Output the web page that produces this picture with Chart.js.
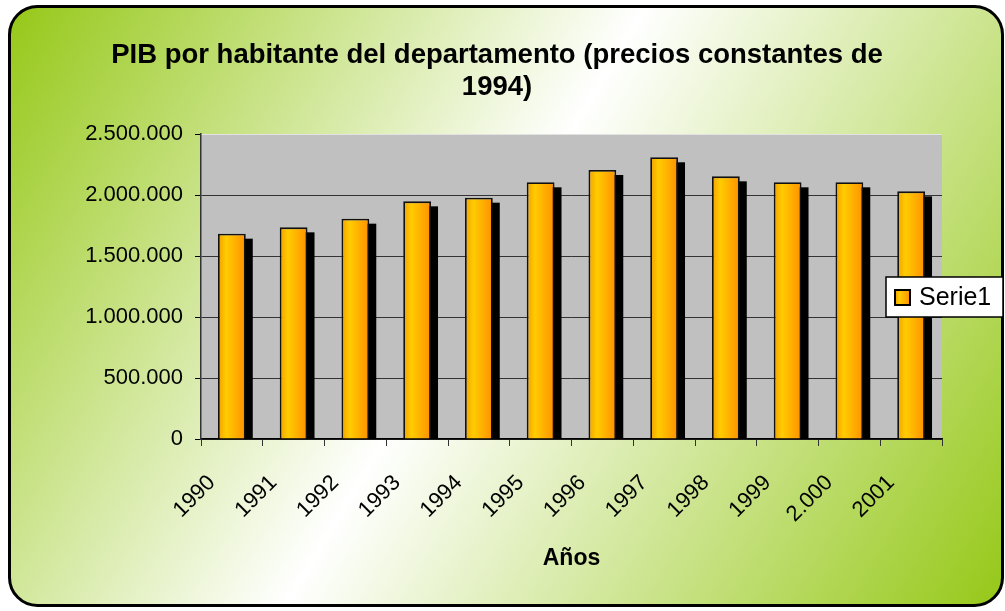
<!DOCTYPE html>
<html>
<head>
<meta charset="utf-8">
<title>PIB por habitante del departamento</title>
<script src="https://cdn.jsdelivr.net/npm/chart.js@4.4.1/dist/chart.umd.min.js"></script>
<style>
  html, body { margin: 0; padding: 0; background: #fff; }
  #wrap { width: 1005px; height: 611px; }
</style>
</head>
<body>
<div id="wrap"><canvas id="chart" width="1005" height="611"></canvas></div>
<script>
// values
const years = ["1990", "1991", "1992", "1993", "1994", "1995", "1996", "1997", "1998", "1999", "2.000", "2001"];
const pib = [1683000, 1735000, 1806000, 1948000, 1978000, 2104000, 2205000, 2309000, 2153000, 2104000, 2104000, 2030000];
const seriesName = "Serie1";
const titleLines = ["PIB por habitante del departamento (precios constantes de", "1994)"];
const xTitle = "Años";
const yMax = 2500000;
const yStep = 500000;

const FONT = '"Liberation Sans", Arial, sans-serif';
const BAR_PCT = 0.45;

function barGradient(ctx, x0, x1) {
  const g = ctx.createLinearGradient(x0, 0, x1, 0);
  g.addColorStop(0, "#f2a000");
  g.addColorStop(0.3, "#ffcc00");
  g.addColorStop(1, "#ff9000");
  return g;
}

function thousands(v) {
  return String(v).replace(/\B(?=(\d{3})+(?!\d))/g, ".");
}

function roundRect(ctx, x, y, w, h, r) {
  ctx.beginPath();
  ctx.moveTo(x + r, y);
  ctx.lineTo(x + w - r, y);
  ctx.arcTo(x + w, y, x + w, y + r, r);
  ctx.lineTo(x + w, y + h - r);
  ctx.arcTo(x + w, y + h, x + w - r, y + h, r);
  ctx.lineTo(x + r, y + h);
  ctx.arcTo(x, y + h, x, y + h - r, r);
  ctx.lineTo(x, y + r);
  ctx.arcTo(x, y, x + r, y, r);
  ctx.closePath();
}

// green/white card behind everything, grey plot area
const cardPlugin = {
  id: "card",
  beforeDraw(chart) {
    const { ctx, width, height, chartArea: a } = chart;
    ctx.save();
    const x = 9.5, y = 6.5, w = width - 12, h = height - 12;
    const g = ctx.createLinearGradient(x, y, x + w, y + h);
    g.addColorStop(0, "#96c818");
    g.addColorStop(0.47, "#ffffff");
    g.addColorStop(1, "#96c818");
    roundRect(ctx, x, y, w, h, 28);
    ctx.fillStyle = g;
    ctx.fill();
    ctx.lineWidth = 3;
    ctx.strokeStyle = "#000";
    ctx.stroke();
    ctx.fillStyle = "#c0c0c0";
    ctx.fillRect(a.left, a.top, a.right - a.left, a.bottom - a.top);
    ctx.restore();
  },
  afterLayout(chart) {
    // centre the title on the card, not on the space left of the legend
    chart.titleBlock.left = 0;
    chart.titleBlock.right = 994;
  },
};

// flat black drop shadow behind each bar
const shadowPlugin = {
  id: "barShadow",
  beforeDatasetsDraw(chart) {
    const { ctx, chartArea: a } = chart;
    const meta = chart.getDatasetMeta(0);
    ctx.save();
    ctx.beginPath();
    ctx.rect(a.left, a.top, a.right - a.left, a.bottom - a.top);
    ctx.clip();
    ctx.fillStyle = "#000";
    meta.data.forEach((bar) => {
      const p = bar.getProps(["x", "y", "base", "width"], true);
      ctx.fillRect(p.x - p.width / 2 + 7, p.y + 5, p.width, p.base - p.y);
    });
    ctx.restore();
  },
};

// boxed legend sitting over the right edge of the plot
const legendPlugin = {
  id: "boxLegend",
  afterDraw(chart) {
    const ctx = chart.ctx;
    const ds = chart.data.datasets[0];
    ctx.save();
    ctx.fillStyle = "#fff";
    ctx.fillRect(886, 277, 117, 40);
    ctx.lineWidth = 1.5;
    ctx.strokeStyle = "#000";
    ctx.strokeRect(886, 277, 117, 40);
    ctx.fillStyle = barGradient(ctx, 895, 910);
    ctx.fillRect(895, 290, 15, 15);
    ctx.lineWidth = 2;
    ctx.strokeRect(895, 290, 15, 15);
    ctx.fillStyle = "#000";
    ctx.font = "25px " + FONT;
    ctx.textBaseline = "middle";
    ctx.textAlign = "left";
    ctx.fillText(ds.label, 919, 298);
    ctx.restore();
  },
};

new Chart(document.getElementById("chart"), {
  type: "bar",
  data: {
    labels: years,
    datasets: [
      {
        label: seriesName,
        data: pib,
        backgroundColor(c) {
          const chart = c.chart;
          const xs = chart.scales && chart.scales.x;
          if (!xs || !chart.chartArea || c.dataIndex === undefined) return "#ffcc00";
          const cx = xs.getPixelForValue(c.dataIndex);
          const half = (xs.width / years.length) * BAR_PCT / 2;
          return barGradient(chart.ctx, cx - half, cx + half);
        },
        borderColor: "#111",
        borderWidth: 1.8,
        categoryPercentage: 1,
        barPercentage: BAR_PCT,
      },
    ],
  },
  options: {
    responsive: false,
    animation: false,
    devicePixelRatio: 1,
    layout: { padding: { top: 39, left: 0, right: 63, bottom: 0 } },
    plugins: {
      legend: { display: false },
      tooltip: { enabled: false },
      title: {
        display: true,
        text: titleLines,
        color: "#000",
        font: { family: FONT, size: 27.5, weight: "bold", lineHeight: 1.18 },
        padding: { top: 0, bottom: 30.1 },
      },
    },
    scales: {
      x: {
        grid: { offset: true, drawOnChartArea: false, tickLength: 7, color: "#333" },
        border: { color: "#000", width: 1.5 },
        ticks: {
          color: "#000",
          font: { family: FONT, size: 22 },
          minRotation: 45,
          maxRotation: 45,
          padding: 24,
          labelOffset: -20,
        },
        title: {
          display: true,
          text: xTitle,
          color: "#000",
          font: { family: FONT, size: 23, weight: "bold", lineHeight: 1.2 },
          padding: { top: 4, bottom: 39 },
        },
        afterFit(scale) { scale.height = 172; },
      },
      y: {
        min: 0,
        max: yMax,
        grid: {
          color: (c) => (c.tick && c.tick.value === yMax ? "#e2e2e2" : "#333"),
          tickColor: "#000",
          tickLength: 6,
        },
        border: { color: "#333", width: 1.5 },
        ticks: {
          stepSize: yStep,
          color: "#000",
          padding: 12,
          font: { family: FONT, size: 22 },
          callback: (v) => thousands(v),
        },
        afterFit(scale) { scale.width = 201; },
      },
    },
  },
  plugins: [cardPlugin, shadowPlugin, legendPlugin],
});
</script>
</body>
</html>
